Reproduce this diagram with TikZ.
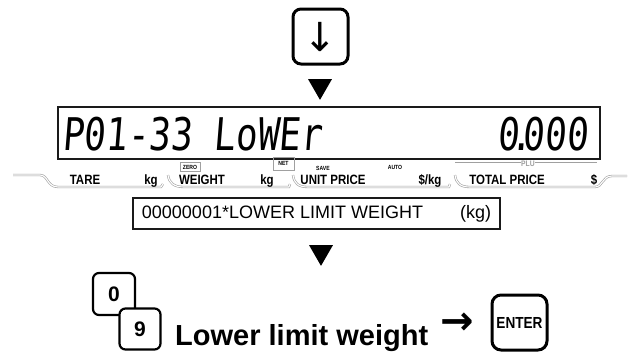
\documentclass[tikz,border=0pt]{standalone}
\usepackage{fontspec}
\setmainfont{Liberation Sans}
\newfontfamily\lcdfont[FakeSlant=0.08,FakeStretch=0.8]{DejaVu Sans Mono}
\newfontfamily\tabfont[FakeStretch=0.85]{Liberation Sans}
\newfontfamily\symfont{DejaVu Sans}
\usetikzlibrary{arrows.meta,positioning,calc,shapes.geometric}
\definecolor{trait}{HTML}{1A1A1A}
\definecolor{gris}{HTML}{A0A0A0}
\tikzset{
  touche/.style={rectangle, rounded corners=6pt, draw=black, line width=2.2pt, fill=white,
                 inner sep=0pt, minimum size=#1, font=\bfseries\fontsize{21}{21}\selectfont},
  ecran/.style={rectangle, draw=trait, line width=1.6pt, inner sep=0pt},
  lcd/.style={font=\lcdfont\fontsize{45}{45}\selectfont, inner sep=0pt},
  onglet/.style={draw=gris, line width=0.6pt, double=white, double distance=1.1pt},
  etiq/.style={font=\tabfont\bfseries\fontsize{13.5}{13.5}\selectfont, inner sep=0pt, anchor=base},
  petit/.style={font=\tabfont\bfseries\fontsize{6}{6}\selectfont, inner sep=0.6pt},
  tri/.style={regular polygon, regular polygon sides=3, shape border rotate=180, fill=black,
              inner sep=0pt, minimum size=27.7pt},
}
\begin{document}
\begin{tikzpicture}[x=1pt,y=-1pt]
  \useasboundingbox (0,0) rectangle (630,354);
  \node[touche=55pt, line width=3pt, rounded corners=8pt] (kbas) at (320.5,36.5) {\symfont\mdseries\fontsize{40}{40}\selectfont ↓};
  \node[tri] (tri1) at (320,86) {};
  % afficheur
  \node[ecran, minimum width=542pt, minimum height=52pt] (lcd) at (329,133) {};
  \node[lcd, anchor=base west] (code) at (62,150) {P01-33 LoWEr};
  \node[lcd, anchor=base east] (valeur) at (588,150) {0\kern-9pt.\kern-9pt000};
  % onglets
  \draw[onglet] (13,175) -- (40,175) .. controls (48,175) and (47,187) .. (58,187) -- (161,187) -- (163,184);
  \draw[onglet] (168,175) .. controls (169,183) and (174,187) .. (184,187) -- (289,187) -- (290,184);
  \draw[onglet] (293,175) .. controls (294,183) and (298,187) .. (308,187) -- (449,187) -- (450,184);
  \draw[onglet] (455,175) .. controls (456,183) and (460,187) .. (470,187) -- (595,187)
     .. controls (603,187) and (602,176) .. (612,176) -- (627,176);
  \draw[gris, line width=1pt] (455,162) -- (597,162);
  \node[etiq] (tare) at (85,184) {TARE};
  \node[etiq] (kg1) at (151,184) {kg};
  \node[etiq] (poids) at (202,184) {WEIGHT};
  \node[etiq] (kg2) at (267,184) {kg};
  \node[etiq] (prixu) at (333,184) {UNIT PRICE};
  \node[etiq] (skg) at (430,184) {\$/kg};
  \node[etiq] (total) at (507,184) {TOTAL PRICE};
  \node[etiq] (dollar) at (594,184) {\$};
  \node[petit, draw=gris, line width=0.5pt, minimum width=20pt, minimum height=9pt] (zero) at (190,167) {ZERO};
  \node[petit, draw=gris, line width=0.5pt, minimum width=21pt, minimum height=13pt] (net) at (283.5,163.5) {NET};
  \node[petit] (save) at (323,168) {SAVE};
  \node[petit] (auto) at (395,167) {AUTO};
  \node[petit, fill=white, text=gris, font=\tabfont\bfseries\fontsize{8}{8}\selectfont] (plu) at (528,164) {PLU};
  % message
  \node[ecran, minimum width=367pt, minimum height=31pt, font=\fontsize{18}{18}\selectfont] (boite) at (316.5,213.5)
    {00000001*LOWER LIMIT WEIGHT\hspace{37pt}(kg)};
  \node[tri] (tri2) at (321,252) {};
  % touches
  \node[touche=42pt] (k0) at (114,294) {0};
  \node[touche=41pt] (k9) at (140,329) {9};
  \node[anchor=base west, inner sep=0pt, font=\bfseries\fontsize{29}{29}\selectfont] (texte) at (175,345) {Lower limit weight};
  \node[inner sep=0pt, font=\symfont\bfseries\fontsize{40}{40}\selectfont] (fleche) at (457,324) {→};
  \node[touche=55pt, line width=3pt, rounded corners=9pt, font=\tabfont\bfseries\fontsize{16}{16}\selectfont] (kentree) at (519.5,322.5) {ENTER};
\end{tikzpicture}
\end{document}
